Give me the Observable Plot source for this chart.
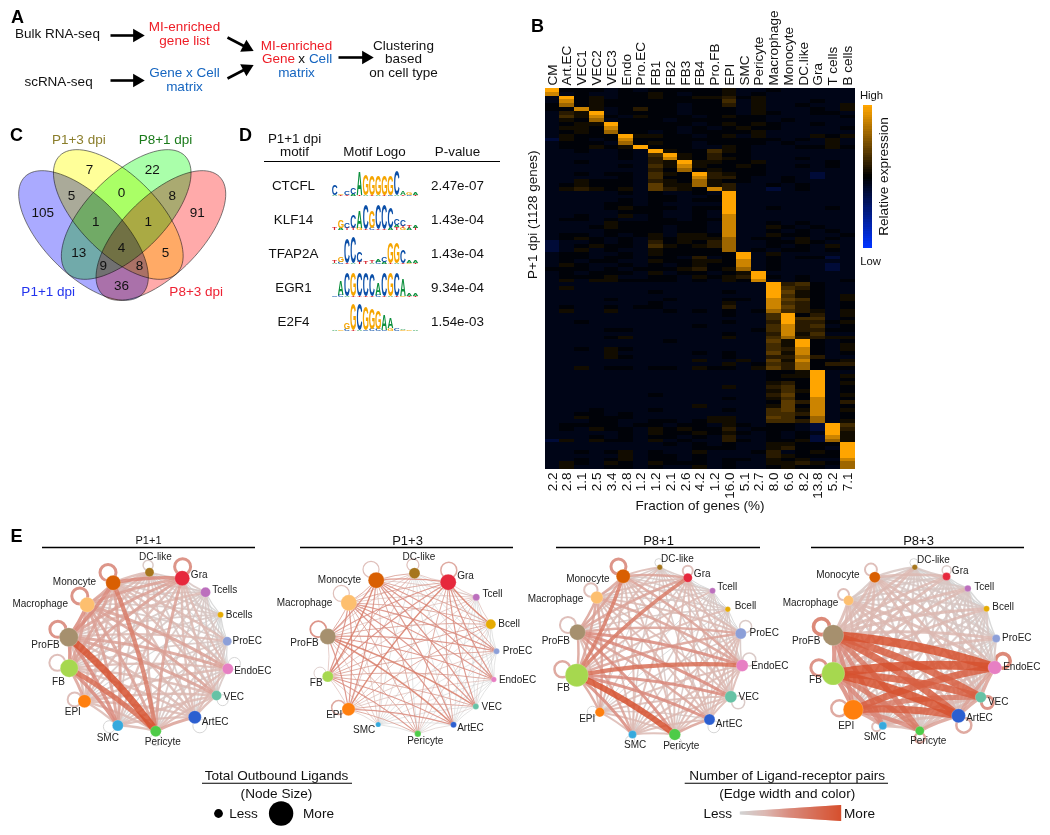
<!DOCTYPE html>
<html>
<head>
<meta charset="utf-8">
<script src="https://cdn.jsdelivr.net/npm/d3@7"></script>
<script src="https://cdn.jsdelivr.net/npm/@observablehq/plot@0.6"></script>
<style>
html,body{margin:0;padding:0;background:#fff;}
#page{position:relative;width:1050px;height:835px;overflow:hidden;font-family:"Liberation Sans",Arial,sans-serif;}
#page svg{position:absolute;background:none;}
</style>
</head>
<body>
<div id="page"></div>
<script>
const FONT = '"Liberation Sans",Arial,sans-serif';

/* ---------- B: heatmap ---------- */
const heatColumns = ["CM","Art.EC","VEC1","VEC2","VEC3","Endo","Pro.EC","FB1","FB2","FB3","FB4","Pro.FB","EPI","SMC","Pericyte","Macrophage","Monocyte","DC.like","Gra","T cells","B cells"];
const heatFractions = ["2.2","2.8","1.1","2.5","3.4","2.8","1.2","1.2","2.1","2.6","4.2","1.2","16.0","5.1","2.7","8.0","6.6","8.2","13.8","5.2","7.1"];
/* each row: one stripe of genes, 21 expression levels read by eye, 0 = navy, 2 = black, 9 = orange */
const heatRows = [
"922 212 122 222 311 211 111","812 112 232 122 312 111 111",
"192 312 232 233 423 111 111","182 322 222 222 513 111 211","272 322 222 122 413 112 113",
"228 312 422 122 213 111 213",
"143 912 222 122 213 211 221","153 821 322 212 322 111 112","132 712 221 222 222 121 111",
"123 392 222 212 323 211 211","133 282 222 121 232 211 112","123 272 212 122 223 111 111",
"132 229 332 212 313 111 323","032 128 222 222 222 212 131","122 217 232 212 222 121 131",
"122 323 922 211 321 112 232",
"112 112 193 225 321 111 111",
"111 112 159 324 221 111 111","111 112 148 324 321 112 111",
"112 111 143 933 223 111 121","111 112 153 832 232 112 121","111 111 142 723 222 111 111",
"112 122 153 294 322 111 011","111 112 152 284 421 121 011","113 222 143 273 221 121 111","123 222 163 373 411 212 111",
"134 323 164 328 411 012 111",
"111 112 121 121 911 111 111","111 111 122 112 911 111 111","111 112 122 122 911 111 111","111 122 121 111 911 111 111",
"111 123 222 122 911 211 121","111 112 221 121 911 111 111","112 113 121 121 811 111 111","122 121 122 122 811 111 111",
"111 132 222 221 811 212 111","111 232 221 221 811 321 211","111 122 221 221 811 212 121","122 121 231 332 811 322 112",
"123 212 132 333 712 213 121","011 212 142 324 711 223 211","012 322 153 234 711 212 131","013 121 132 222 712 122 121",
"122 112 132 222 291 311 111","122 122 122 141 291 212 201","121 221 132 233 281 211 111","132 112 121 232 281 211 101","222 121 222 342 371 211 101",
"121 222 131 221 239 111 111","122 231 122 132 349 212 111","131 332 222 121 328 112 112",
"111 111 111 111 111 945 211","131 111 111 111 111 954 211","111 111 121 111 211 963 211","111 111 111 111 111 953 213",
"111 121 112 111 221 865 213","111 111 121 111 311 854 212","121 121 221 111 411 864 212","131 131 112 121 212 754 313",
"111 111 111 111 211 592 413","111 111 111 111 111 595 512","112 111 111 111 211 494 423","111 111 111 121 111 584 512",
"111 122 111 111 112 584 422","111 111 111 111 211 483 511","111 123 111 111 311 574 433",
"111 111 112 111 111 639 212","111 111 111 111 111 539 213","112 132 111 111 111 548 213","111 131 111 121 211 638 212",
"111 132 111 111 211 447 411","111 111 111 131 131 638 223","111 111 111 111 312 547 244","113 122 122 132 213 647 222",
"111 111 111 111 111 223 911","111 111 111 111 111 233 913","111 111 111 111 111 222 912","111 111 111 111 111 342 913",
"111 111 111 111 311 452 912","111 111 111 111 111 353 912","111 111 121 111 111 462 913","111 111 111 111 211 352 812",
"111 111 111 111 111 264 814","111 111 111 131 111 362 812","111 211 121 111 211 563 813","112 212 111 111 111 554 812",
"113 222 111 113 311 652 712","111 221 122 123 311 554 713",
"122 221 221 221 321 221 095","121 322 132 322 412 221 094","111 112 132 232 321 212 193","111 212 122 121 411 212 083","031 322 131 211 421 223 073",
"111 111 112 121 211 332 229","111 111 111 122 211 342 219","112 123 121 131 112 412 329","111 113 122 121 111 432 229",
"112 123 122 121 221 323 118","132 132 132 221 211 334 327","131 122 121 131 211 232 217"
];
const heatLevels = [-0.22,-0.09,-0.03,0.07,0.16,0.26,0.36,0.62,0.8,1];

/* ---------- A: flow diagram ---------- */
const flowText = ["Bulk RNA-seq","MI-enriched","gene list","scRNA-seq","Gene x Cell","matrix","MI-enriched","Gene","x","Cell","matrix","Clustering","based","on cell type"];
const flowColor = ["#111","#ee1c25","#ee1c25","#111","#1565c0","#1565c0","#ee1c25","#ee1c25","#111","#1565c0","#1565c0","#111","#111","#111"];
const flowX = [57,184,184,58,184,184,296,278,301,320,296,403,403,403];
const flowY = [33,26,40,81,72,86,45,58,58,58,72,45,58,72];
const flowArrowX1 = [110,110,227,227,338], flowArrowY1 = [35,80,37,78,57], flowArrowX2 = [143,143,252,252,372], flowArrowY2 = [35,80,50,65,57];

/* ---------- C: Venn ---------- */
const vennSets = ["P1+1 dpi","P1+3 dpi","P8+1 dpi","P8+3 dpi"];
const vennFill = ["#aaaaff","#ffff99","#aaffaa","#ffaaaa"];
const vennTextColor = ["#2233ee","#8a7d2a","#1a7a1a","#ee2233"];
const vennLabelX = [47.7,78.3,165,195.7], vennLabelY = [290.7,139.3,139.3,290.7];
const vennCx = [83,117.8,125.7,160.4], vennCy = [235,214,214,235], vennTilt = [45,45,-45,-45];
const vennCounts = [105,7,22,91,5,0,8,1,1,13,4,5,9,8,36];
const vennCountX = [42.3,89,151.7,196.7,71,121,171.7,95.3,147.7,78.3,121,165,102.7,139,121];
const vennCountY = [212,169,169,212,195,192.3,195,220.7,220.7,251.7,246.7,251.7,265,265,285];

/* ---------- D: motif table ---------- */
const motifNames = ["CTCFL","KLF14","TFAP2A","EGR1","E2F4"];
const motifP = ["2.47e-07","1.43e-04","1.43e-04","9.34e-04","1.54e-03"];
const motifRowY = [185,219,253,287,321];
const logoBaseline = [195,229,263,296,330];
/* letter stacks per logo position, bottom to top, with height in pixels */
const logoCTCFL = ["A1C10","T1G1","T1C4","A2C7","T1A24","A1G22","T1G20","A1G20","T1G20","C1G20","A1C26","T1A4","C1G3","T1A2"];
const logoKLF14 = ["T2","A2G8","T2C5","T2C14","G2A17","T1C25","C2G18","T1C26","T1C26","A2C22","T3A2C7","G2T2C6","A2T3","T2A2"];
const logoTFAP2A = ["A1T2","C2G5","T1C26","A1C27","T2C10","T2","A1T2","C2A2","A2C5","T1G21","A1G21","T1C13","G1A3","T1A2"];
const logoEGR1 = ["C1","C2A15","A1C24","T1G24","T1C24","T1C24","T1C23","C2A12","T1C24","A1G24","T1C24","G1A18","T1A2","T1A2"];
const logoE2F4 = ["A1","G1","C2G7","T1G27","A1C27","C1G24","C2G22","C2G19","C1A16","G3A11","C2","G1A1","G1","A1"];
const logoColor = {A:"#0b8f3c",C:"#0b4fa8",G:"#f5a500",T:"#d8202a"};

/* ---------- E: networks ---------- */
const nodeColor = ["#a6761d","#e6283c","#bc6fbd","#e6ab02","#8c9fd8","#e77fc3","#66c2a5","#2c5fd0","#4ecb48","#35a9dd","#ff7f0e","#a6d84f","#a6906e","#fdbf6f","#d95f02"];
const namesA = ["DC-like","Gra","Tcells","Bcells","ProEC","EndoEC","VEC","ArtEC","Pericyte","SMC","EPI","FB","ProFB","Macrophage","Monocyte"];
const namesB = ["DC-like","Gra","Tcell","Bcell","ProEC","EndoEC","VEC","ArtEC","Pericyte","SMC","EPI","FB","ProFB","Macrophage","Monocyte"];

const xP11 = [149,181.7,205,220,226.7,227.3,216,194.3,155.3,117.3,84,68.7,68.3,86.7,112.7];
const yP11 = [571.7,577.7,591.7,614.3,640.7,668.3,695,716.7,730.7,725,700.7,667.7,636.7,604.3,582.3];
const sizeP11 = [4.5,7.5,5,3,4.5,5.5,5,6.5,5.5,5.5,6.5,9,9.5,7.5,7.5];
const lxP11 = [155,198.7,224.3,238.7,246.7,252.3,233.3,214.7,162.3,107.3,72.3,58,45,39.7,74];
const lyP11 = [556,574.3,589,614,640.7,670,696.3,721.7,741.7,737,711.7,681.7,644,603.7,581.7];
const edgesP11 = ["21112223223333","2123334334445","112222222322","11112112222","1222222323","233233443","33333443","4333333","337946","35544","4333","544","55","4"];
const loopsP11 = "250001111133555";

const xP13 = [414,447.7,475.7,490.3,496,493.3,475.3,453,417.3,377.7,348,327.3,327.3,348.3,375.7];
const yP13 = [572.7,581.7,596.7,623.7,650.7,679,706,724.3,733.3,724,708.7,676,636,602.3,579.7];
const sizeP13 = [5.5,8,3.5,5,3,2.7,3,3,3.2,2.6,6.5,5.5,8,8,8];
const lxP13 = [418.3,465,492,508.7,517,517,491.3,470,424.7,363.7,333.7,315.7,304,304,339];
const lyP13 = [556.7,575,593,623.3,650.7,679.3,706.3,727.7,740.7,729.3,714.7,682,642.3,602,579.3];
const edgesP13 = ["31111111134334","3645544265545","311113133333","11213144444","1111134555","111134555","12144655","2155655","145444","23333","3555","356","45","4"];
const loopsP13 = "340000000042533";

const xP81 = [659.3,687.3,712,727.3,740.3,741.7,730.3,709,674.3,632,599.3,576.3,577,596.3,622.7];
const yP81 = [566.7,577.3,590.3,608.7,633,665,696.3,719,734,734,711.7,674.7,631.7,597,575.7];
const sizeP81 = [2.7,4.5,3,2.7,5.5,6,6,5.5,5.8,4,4.7,11.5,8,6.2,7];
const lxP81 = [677,701.7,726.7,745,763.7,769.3,748.3,728.7,680.7,634.7,586.7,563,555.3,555,587.3];
const lyP81 = [558,573.3,586,605.3,632.3,665,696.7,723.3,745,744.3,718.7,687.7,640.7,598,578];
const edgesP81 = ["21122222213223","1123333326434","112222213222","12222213222","2333324433","333337544","33335533","4325433","339533","35433","4343","446","44","4"];
const loopsP81 = "130022211114335";

const xP83 = [914.3,946,967.3,986,995.7,994.3,980.3,958,919.3,882.3,852.7,832.7,832.7,848,874.3];
const yP83 = [566.7,576,588,608.3,638,667,696.7,715.3,730.3,725.3,709.3,673,634.7,600,576.7];
const sizeP83 = [2.7,4,3.3,3,4,6.8,5.5,7,4.5,4,10,11.5,10.5,5,5.5];
const lxP83 = [933,959.7,983.7,1002.7,1016.3,1021.3,997.7,979,927.7,874.3,845.7,815,805.7,810,837.3];
const lyP83 = [559,570.7,586,606,637.7,666.3,701.7,717,740.7,736,725.7,679,640.7,602.7,574.3];
const edgesP83 = ["21112222223322","1112222223323","112222223322","12222223322","2121123322","443389933","43368833","4389833","356622","45522","5533","533","33","2"];
const loopsP83 = "120006544345633";

const panelTitle = ["P1+1","P1+3","P8+1","P8+3"];
const panelTitleX = [148,407,658,918];
const panelTitleSize = [11,13,13,13];
const panelRuleX1 = [42,300,556,811], panelRuleX2 = [255,513,760,1024];
const panelWidthFactor = [1.2,0.4,1,1.45];
const edgeWidths = [0,1,1.5,2,2.5,3,3.6,4.2,5,6];

/* ---------- legends ---------- */
const legendHeads = ["Total Outbound Ligands","(Node Size)","Number of Ligand-receptor pairs","(Edge width and color)"];
const legendHeadX = [276,276,786.7,786.7], legendHeadY = [774.7,792.7,774.7,792.7];
const legendRuleX1 = [202,684.7], legendRuleX2 = [352,888];
const legendWords = ["Less","More","Less","More"];
const legendWordX = [243,318,717.3,859];
const legendDotX = [218,280.6], legendDotR = [4.4,12.2];

/* ---------- panel letters ---------- */
const panelLetters = ["A","B","C","D","E"];
const panelLetterX = [17,537,16,245,16], panelLetterY = [17,26,135,135,536];

/* ---------- builders ---------- */
const page = document.getElementById("page");
function place(svg,left,top){svg.style.left=left+"px";svg.style.top=top+"px";page.appendChild(svg);}
const literal = f=>({value:f,scale:null});

/* links, loops, nodes and labels for one network */
function network(i,names,X,Y,S,LX,LY,edges,loops){
  const wf = panelWidthFactor[i];
  const cx = d3.mean(X), cy = d3.mean(Y);
  const links=[];
  edges.forEach((row,a)=>[...row].forEach((c,k)=>{
    const b=a+1+k, w=+c;
    links.push({x1:X[a],y1:Y[a],x2:X[b],y2:Y[b],w,sw:Math.max(0.7,edgeWidths[w]*wf)});
  }));
  links.sort((p,q)=>p.w-q.w);
  const loopData=[...loops].map((c,n)=>{
    const w=+c, dx=X[n]-cx, dy=Y[n]-cy, len=Math.hypot(dx,dy);
    let nx=dx/len, ny=dy/len;
    /* loops point outward and lean towards the upper left on most of the ring */
    if(nx<-0.4||ny<0.5){nx-=0.3;ny-=0.8;}
    const l2=Math.hypot(nx,ny), r=Math.max(4,Math.min(8,S[n]+0.5)), d=S[n]+r*0.5;
    return {x:X[n]+nx/l2*d,y:Y[n]+ny/l2*d,w,sw:Math.max(0.7,edgeWidths[w]*Math.min(1,Math.max(wf,0.6))),r};
  }).filter(d=>d.w>0);
  const nodes=names.map((n,k)=>({n,x:X[k],y:Y[k],s:S[k],c:nodeColor[k],lx:LX[k],ly:LY[k]}));
  return [
    Plot.dot(loopData,{x:"x",y:"y",r:"r",stroke:"w",strokeWidth:"sw",fill:"none",strokeOpacity:0.9}),
    Plot.arrow(links,{x1:"x1",y1:"y1",x2:"x2",y2:"y2",bend:-7,headLength:0,stroke:"w",strokeWidth:"sw",strokeOpacity:0.85}),
    Plot.dot(nodes,{x:"x",y:"y",r:"s",fill:literal(d=>d.c),stroke:"#fff",strokeOpacity:0.35,strokeWidth:0.6}),
    Plot.text(nodes,{x:"lx",y:"ly",text:"n",fontSize:10,fill:"#222"})
  ];
}
function ellipse(i){
  const a=83,b=39,t=vennTilt[i]*Math.PI/180;
  return d3.range(0,360,4).map(deg=>{
    const p=deg*Math.PI/180,u=a*Math.cos(p),v=b*Math.sin(p);
    return {x:vennCx[i]+u*Math.cos(t)-v*Math.sin(t),y:vennCy[i]+u*Math.sin(t)+v*Math.cos(t),set:vennSets[i]};
  });
}
const textMark=(labels,X,Y,opts)=>Plot.text(labels.map((t,i)=>({t,x:X[i],y:Y[i],i})),{x:"x",y:"y",text:"t",...opts});

/* arrow shafts end just before a filled triangular head */
const flowArrows=d3.range(flowArrowX1.length).map(i=>{
  const x1=flowArrowX1[i],y1=flowArrowY1[i],x2=flowArrowX2[i],y2=flowArrowY2[i];
  const a=Math.atan2(y2-y1,x2-x1);
  return {x1,y1,x2,y2,
    mx:x2-6*Math.cos(a),my:y2-6*Math.sin(a),
    hx:x2-6.5*Math.cos(a),hy:y2-6.5*Math.sin(a),rot:a*180/Math.PI+90};
});

/* ---------- main figure (A, C, D, E) ---------- */
const rampX=d3.range(740,841,1);
const main = Plot.plot({
  width:1050,height:835,margin:0,
  style:{fontFamily:FONT,background:"none"},
  x:{domain:[0,1050],range:[0,1050],axis:null},
  y:{domain:[0,835],range:[0,835],axis:null},
  r:{type:"linear",domain:[0,20],range:[0,20]},
  color:{type:"linear",domain:[1,3,5,9],range:["#d2d2d2","#dcb8b2","#d98a7c","#d6512f"]},
  marks:[
    textMark(panelLetters,panelLetterX,panelLetterY,{fontSize:18,fontWeight:"bold",fill:"#000"}),
    /* A */
    textMark(flowText,flowX,flowY,{fontSize:13.5,fill:literal(d=>flowColor[d.i])}),
    Plot.link(flowArrows,{x1:"x1",y1:"y1",x2:"mx",y2:"my",stroke:"#000",strokeWidth:2.6}),
    Plot.dot(flowArrows,{x:"hx",y:"hy",symbol:"triangle",r:()=>5,rotate:"rot",fill:"#000"}),
    /* C */
    ...vennSets.map((s,i)=>Plot.line(ellipse(i),{x:"x",y:"y",curve:"linear-closed",fill:vennFill[i],stroke:"#444",strokeWidth:0.7,mixBlendMode:"multiply"})),
    textMark(vennCounts.map(String),vennCountX,vennCountY,{fontSize:13.5,fill:"#111"}),
    textMark(vennSets,vennLabelX,vennLabelY,{fontSize:13.5,fill:literal(d=>vennTextColor[d.i])}),
    /* D */
    Plot.text(["P1+1 dpi","motif","Motif Logo","P-value"],{x:[294,294,374,457],y:[138,151.5,151.5,151.5],text:d=>d,fontSize:13.4,fill:"#111"}),
    Plot.ruleY([161],{x1:264,x2:500,stroke:"#000",strokeWidth:1.2}),
    textMark(motifNames,motifNames.map(()=>293),motifRowY,{fontSize:13.4,fill:"#111"}),
    textMark(motifP,motifP.map(()=>457),motifRowY,{fontSize:13.4,fill:"#111"}),
    /* B annotations */
    Plot.text(["High","Low"],{x:[871,870],y:[95,261],text:d=>d,fontSize:11.3,fill:"#111"}),
    Plot.text(["Relative expression"],{x:[883],y:[176],text:d=>d,fontSize:13.6,rotate:-90,fill:"#111"}),
    /* E */
    textMark(panelTitle,panelTitleX,panelTitle.map(()=>540),{fontSize:d=>panelTitleSize[d.i],fill:"#111"}),
    Plot.ruleY(panelTitle,{x1:(d,i)=>panelRuleX1[i],x2:(d,i)=>panelRuleX2[i],y:()=>547,stroke:"#000",strokeWidth:1.3}),
    ...network(0,namesA,xP11,yP11,sizeP11,lxP11,lyP11,edgesP11,loopsP11),
    ...network(1,namesB,xP13,yP13,sizeP13,lxP13,lyP13,edgesP13,loopsP13),
    ...network(2,namesB,xP81,yP81,sizeP81,lxP81,lyP81,edgesP81,loopsP81),
    ...network(3,namesB,xP83,yP83,sizeP83,lxP83,lyP83,edgesP83,loopsP83),
    /* legends */
    textMark(legendHeads,legendHeadX,legendHeadY,{fontSize:13.6,fill:"#111"}),
    Plot.ruleY([0,1],{x1:i=>legendRuleX1[i],x2:i=>legendRuleX2[i],y:()=>782.7,stroke:"#000",strokeWidth:1.1}),
    textMark(legendWords,legendWordX,[813,813,813,813],{fontSize:13.6,fill:"#111"}),
    Plot.dot([0,1],{x:i=>legendDotX[i],y:()=>813,r:i=>legendDotR[i],fill:"#000"}),
    Plot.ruleX(rampX,{x:d=>d,y1:d=>813-(1.5+(d-740)*0.065),y2:d=>813+(1.5+(d-740)*0.065),stroke:d=>1+(d-740)*0.08,strokeWidth:1.4})
  ]
});
place(main,0,0);

/* ---------- B: heatmap ---------- */
const heatCells = heatRows.flatMap((row,r)=>[...row.replace(/ /g,"")].map((c,k)=>({col:heatColumns[k],row:r,v:heatLevels[+c]})));
const heat = Plot.plot({
  width:370,height:525,marginLeft:44.5,marginRight:15.5,marginTop:88,marginBottom:56,
  style:{fontFamily:FONT,background:"none",color:"#111"},
  x:{domain:heatColumns,padding:0,round:false,label:null,axis:null},
  y:{domain:d3.range(heatRows.length),padding:0,round:false,axis:null},
  color:{type:"linear",domain:[-1,0,1],range:["#0033ff","#000000","#ffa500"]},
  marks:[
    Plot.cell(heatCells,{x:"col",y:"row",fill:"v",shapeRendering:"crispEdges"}),
    Plot.axisX({anchor:"top",tickRotate:-90,tickSize:0,tickPadding:3,label:null,fontSize:13.5}),
    Plot.axisX({anchor:"bottom",tickRotate:-90,tickSize:0,tickPadding:3,label:null,fontSize:13.5,tickFormat:d=>heatFractions[heatColumns.indexOf(d)]}),
    Plot.text(["P+1 dpi (1128 genes)"],{frameAnchor:"left",rotate:-90,dx:-12,fontSize:13.5,fill:"#111"}),
    Plot.text(["Fraction of genes (%)"],{frameAnchor:"bottom",dy:40,fontSize:13.5,fill:"#111"})
  ]
});
place(heat,500,0);

/* ---------- B: colour bar ---------- */
const barValues = d3.range(60).map(i=>1-i/29.5);
const bar = Plot.plot({
  width:9,height:143,margin:0,
  x:{axis:null},y:{domain:d3.range(60),padding:0,round:false,axis:null},
  color:{type:"linear",domain:[-1,0,1],range:["#0033ff","#000000","#ffa500"]},
  marks:[Plot.cell(barValues,{y:(d,i)=>i,fill:d=>d,shapeRendering:"crispEdges"})]
});
place(bar,863,105);

/* ---------- D: sequence logos ---------- */
const logoLetters=[];
[logoCTCFL,logoKLF14,logoTFAP2A,logoEGR1,logoE2F4].forEach((logo,li)=>logo.forEach((stack,pos)=>{
  let base=0;
  for(const m of stack.matchAll(/([ACGT])(\d+)/g)){
    logoLetters.push({letter:m[1],pos,h:+m[2],y:logoBaseline[li]-base});
    base+=+m[2];
  }
}));
const LOGO_FONT=10, CAP=7.29;
const logos = Plot.plot({
  width:88,height:180,margin:0,
  style:{fontFamily:FONT,background:"none"},
  x:{domain:[-0.5,13.5],range:[0,87],axis:null},
  y:{domain:[160,340],range:[0,180],axis:null},
  marks:[Plot.text(logoLetters,{x:"pos",y:"y",text:"letter",fontSize:LOGO_FONT,fontWeight:"bold",lineAnchor:"bottom",fill:literal(d=>logoColor[d.letter])})]
});
logos.querySelectorAll("text").forEach((t,i)=>{
  const d=logoLetters[i];
  t.setAttribute("transform",(t.getAttribute("transform")||"")+` scale(0.82,${d.h/CAP})`);
});
place(logos,331,160);
</script>
</body>
</html>
